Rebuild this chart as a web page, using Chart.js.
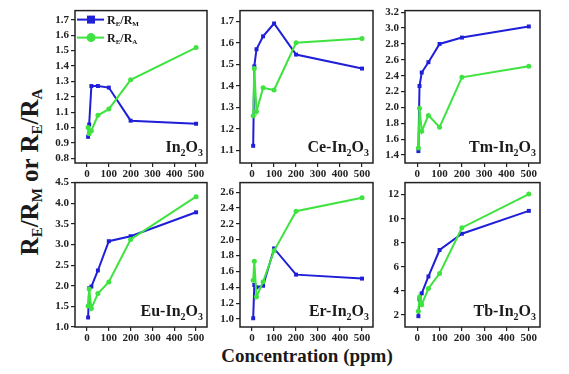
<!DOCTYPE html>
<html>
<head>
<meta charset="utf-8">
<script src="https://cdn.jsdelivr.net/npm/chart.js@4"></script>
<style>
  body { margin: 0; background: #fff; width: 569px; height: 374px; position: relative; overflow: hidden; font-family: "Liberation Serif", serif; }
  canvas { position: absolute; }
  #ytitle { position: absolute; left: 31px; top: 172px; transform: translate(-50%, -50%) rotate(-90deg); white-space: nowrap; font-weight: bold; font-size: 25px; color: #1a1a1a; }
  #ytitle sub { font-size: 15px; vertical-align: -4px; }
  #xtitle { position: absolute; left: 307px; top: 356px; transform: translate(-50%, -50%); white-space: nowrap; font-weight: bold; font-size: 19px; color: #1a1a1a; }
</style>
</head>
<body>
<div id="ytitle">R<sub>E</sub>/R<sub>M</sub> or R<sub>E</sub>/R<sub>A</sub></div>
<div id="xtitle">Concentration (ppm)</div>
<script>
// concentrations (ppm) shared by all panels
const conc = [5, 10, 20, 50, 100, 200, 500];
const xTicks = [0, 100, 200, 300, 400, 500];

// R_E/R_M (blue) and R_E/R_A (green) for each sample
const inRM = [0.94, 1.02, 1.27, 1.27, 1.26, 1.045, 1.025];
const inRA = [1.00, 0.96, 0.98, 1.08, 1.12, 1.31, 1.52];
const ceRM = [1.12, 1.49, 1.57, 1.63, 1.69, 1.545, 1.48];
const ceRA = [1.26, 1.48, 1.28, 1.39, 1.38, 1.60, 1.62];
const tmRM = [1.45, 2.27, 2.44, 2.57, 2.80, 2.88, 3.02];
const tmRA = [1.49, 1.99, 1.70, 1.90, 1.75, 2.38, 2.52];
const euRM = [1.23, 1.94, 1.98, 2.37, 3.08, 3.20, 3.78];
const euRA = [1.51, 1.92, 1.45, 1.81, 2.09, 3.12, 4.16];
const erRM = [1.01, 1.43, 1.40, 1.42, 1.89, 1.56, 1.51];
const erRA = [1.49, 1.73, 1.28, 1.47, 1.86, 2.36, 2.53];
const tbRM = [1.9, 3.3, 3.8, 5.2, 7.4, 8.75, 10.65];
const tbRA = [2.3, 3.5, 2.85, 4.2, 5.45, 9.25, 12.05];

// y tick labels per panel
const inTicks = [0.8, 0.9, 1.0, 1.1, 1.2, 1.3, 1.4, 1.5, 1.6, 1.7];
const ceTicks = [1.1, 1.2, 1.3, 1.4, 1.5, 1.6, 1.7];
const tmTicks = [1.4, 1.6, 1.8, 2.0, 2.2, 2.4, 2.6, 2.8, 3.0, 3.2];
const euTicks = [1.0, 1.5, 2.0, 2.5, 3.0, 3.5, 4.0, 4.5];
const erTicks = [1.0, 1.2, 1.4, 1.6, 1.8, 2.0, 2.2, 2.4, 2.6];
const tbTicks = [2, 4, 6, 8, 10, 12];

const BLUE = "#1f1fd8";
const GREEN = "#3fe33f";
const FONT = '"Liberation Serif", "Times New Roman", serif';

const cols = [[75, 207], [240, 373], [405, 540]];
const rows = [[6, 163], [178, 327]];
const AXW = 40, AXH = 22, PAD = 4;

const panels = [
    { rm: inRM, ra: inRA, ticks: inTicks, min: 0.77, max: 1.76, dec: 1, label: [["In", 0], ["2", 1], ["O", 0], ["3", 1]], legend: true },
    { rm: ceRM, ra: ceRA, ticks: ceTicks, min: 1.04, max: 1.75, dec: 1, label: [["Ce-In", 0], ["2", 1], ["O", 0], ["3", 1]] },
    { rm: tmRM, ra: tmRA, ticks: tmTicks, min: 1.3, max: 3.22, dec: 1, label: [["Tm-In", 0], ["2", 1], ["O", 0], ["3", 1]] },
    { rm: euRM, ra: euRA, ticks: euTicks, min: 1.0, max: 4.5, dec: 1, label: [["Eu-In", 0], ["2", 1], ["O", 0], ["3", 1]] },
    { rm: erRM, ra: erRA, ticks: erTicks, min: 0.9, max: 2.72, dec: 1, label: [["Er-In", 0], ["2", 1], ["O", 0], ["3", 1]] },
    { rm: tbRM, ra: tbRA, ticks: tbTicks, min: 1, max: 13, dec: 0, label: [["Tb-In", 0], ["2", 1], ["O", 0], ["3", 1]] }
];

// text with subscripts, parts = [[text, isSub], ...]
function drawRich(ctx, parts, x, y, size, alignRight) {
    const subSize = Math.round(size * 0.62);
    let w = 0;
    parts.forEach(p => {
        ctx.font = "bold " + (p[1] ? subSize : size) + "px " + FONT;
        w += ctx.measureText(p[0]).width;
    });
    let cx = alignRight ? x - w : x;
    ctx.textAlign = "left";
    ctx.textBaseline = "alphabetic";
    parts.forEach(p => {
        ctx.font = "bold " + (p[1] ? subSize : size) + "px " + FONT;
        ctx.fillText(p[0], cx, p[1] ? y + size * 0.22 : y);
        cx += ctx.measureText(p[0]).width;
    });
}

const framePlugin = {
    id: "frame",
    afterDatasetsDraw(chart) {
        const a = chart.chartArea, ctx = chart.ctx;
        ctx.save();
        ctx.strokeStyle = "#222";
        ctx.lineWidth = 1.5;
        ctx.strokeRect(a.left, a.top, a.right - a.left, a.bottom - a.top);
        ctx.restore();
    },
    afterDraw(chart) {
        const a = chart.chartArea, ctx = chart.ctx;
        const p = chart.options.plugins.frame;
        ctx.save();
        ctx.fillStyle = "#1a1a1a";
        drawRich(ctx, p.label, a.right - 4, a.bottom - 11, 16, true);
        if (p.legend) {
            const items = [
                { color: BLUE, shape: "sq", y: a.top + 9, text: [["R", 0], ["E", 1], ["/R", 0], ["M", 1]] },
                { color: GREEN, shape: "ci", y: a.top + 27, text: [["R", 0], ["E", 1], ["/R", 0], ["A", 1]] }
            ];
            items.forEach(it => {
                ctx.strokeStyle = it.color;
                ctx.fillStyle = it.color;
                ctx.lineWidth = 2;
                ctx.beginPath();
                ctx.moveTo(a.left + 2, it.y);
                ctx.lineTo(a.left + 29, it.y);
                ctx.stroke();
                if (it.shape === "sq") {
                    ctx.fillRect(a.left + 12, it.y - 4, 8, 8);
                } else {
                    ctx.beginPath();
                    ctx.arc(a.left + 16, it.y, 4.5, 0, Math.PI * 2);
                    ctx.fill();
                }
                ctx.fillStyle = "#1a1a1a";
                drawRich(ctx, it.text, a.left + 32, it.y + 4, 12, false);
            });
        }
        ctx.restore();
    }
};

panels.forEach((p, i) => {
    const col = cols[i % 3], row = rows[Math.floor(i / 3)];
    const w = col[1] - col[0], h = row[1] - row[0];
    const cv = document.createElement("canvas");
    cv.width = AXW + w + PAD;
    cv.height = PAD + h + AXH;
    cv.style.left = (col[0] - AXW) + "px";
    cv.style.top = (row[0] - PAD) + "px";
    document.body.appendChild(cv);

    const series = (vals, color, shape) => ({
        data: conc.map((c, k) => ({ x: c, y: vals[k] })),
        borderColor: color,
        backgroundColor: color,
        borderWidth: 2,
        pointStyle: shape,
        pointRadius: shape === "rect" ? 2.8 : 2.5,
        pointBorderWidth: 0,
        tension: 0
    });

    new Chart(cv, {
        type: "line",
        data: { datasets: [series(p.ra, GREEN, "circle"), series(p.rm, BLUE, "rect")] },
        options: {
            responsive: false,
            animation: false,
            clip: false,
            layout: { padding: { left: 0, top: PAD, right: PAD, bottom: 0 } },
            plugins: {
                legend: { display: false },
                tooltip: { enabled: false },
                frame: { label: p.label, legend: !!p.legend }
            },
            scales: {
                x: {
                    type: "linear",
                    min: -55,
                    max: 550,
                    afterFit: s => { s.height = AXH; },
                    afterBuildTicks: s => { s.ticks = xTicks.map(v => ({ value: v })); },
                    border: { display: false },
                    grid: { drawOnChartArea: false, tickLength: 4, tickColor: "#222", lineWidth: 1.2 },
                    ticks: { padding: 1, color: "#222", maxRotation: 0, font: { family: FONT, weight: "bold", size: 11 } }
                },
                y: {
                    min: p.min,
                    max: p.max,
                    afterFit: s => { s.width = AXW; },
                    afterBuildTicks: s => { s.ticks = p.ticks.map(v => ({ value: v })); },
                    border: { display: false },
                    grid: { drawOnChartArea: false, tickLength: 4, tickColor: "#222", lineWidth: 1.2 },
                    ticks: { padding: 2, color: "#222", callback: v => v.toFixed(p.dec), font: { family: FONT, weight: "bold", size: 11 } }
                }
            }
        },
        plugins: [framePlugin]
    });
});
</script>
</body>
</html>
